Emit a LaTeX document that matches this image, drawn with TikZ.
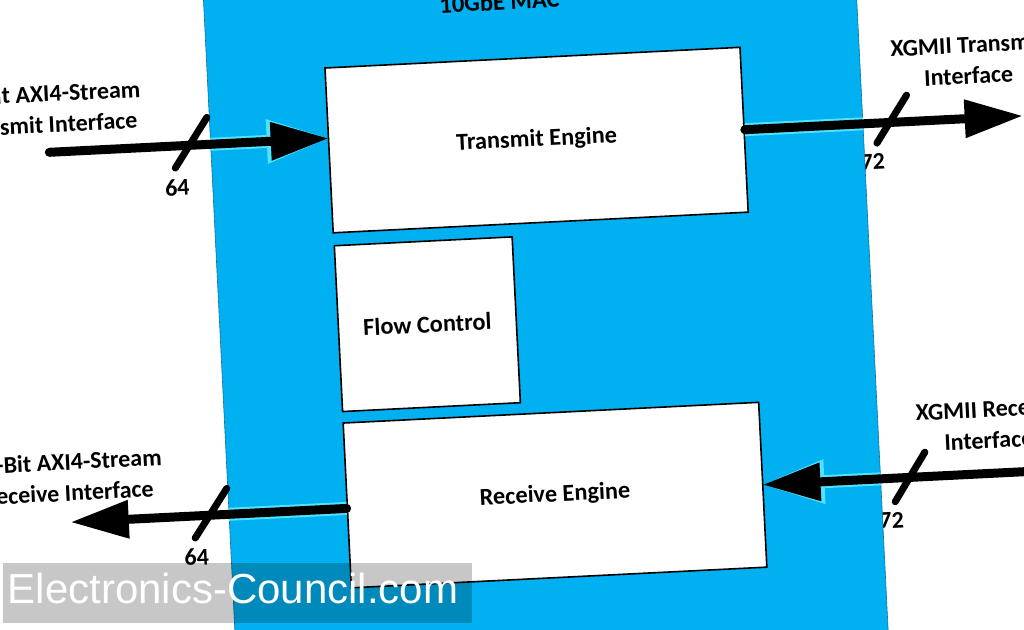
\documentclass[tikz,border=0pt]{standalone}
\usepackage{fontspec}
\setmainfont{Carlito}
\newfontfamily\wmfont{Liberation Sans}
\usetikzlibrary{arrows.meta,calc}
\definecolor{macblue}{RGB}{0,176,240}
\definecolor{macedge}{RGB}{20,110,160}
\definecolor{glowcyan}{RGB}{80,228,255}
\tikzset{
  box/.style={draw=black, line width=1.6pt, fill=white, inner sep=0pt, font=\bfseries\fontsize{24.3}{30}\selectfont},
  bus/.style={draw=black, line width=9pt, line cap=round, -{Triangle[length=57pt,width=39pt,line width=0pt]}},
  busglow/.style={draw=glowcyan, line width=13pt, line cap=butt, -{Triangle[length=61pt,width=45pt,line width=0pt]}},
  slashline/.style={draw=black, line width=7pt, line cap=round},
  numlbl/.style={font=\bfseries\fontsize{24}{28}\selectfont, inner sep=0pt},
  iflbl/.style={font=\bfseries\fontsize{24}{31}\selectfont, align=center, inner sep=0pt},
  titlelbl/.style={font=\bfseries\fontsize{24.5}{28}\selectfont, inner sep=0pt, anchor=base},
}
\begin{document}
\begin{tikzpicture}[x=1pt,y=-1pt]
\useasboundingbox (0,0) rectangle (1024,629);
\clip (0,0) rectangle (1024,629);
\fill[white] (0,0) rectangle (1024,629);
\begin{scope}[rotate around={2.85:(512,315)}, transform shape]
  % bus width labels (partly behind the MAC block)
  \node[numlbl] (n64a) at (184,171) {64};
  \node[numlbl] (n72a) at (880,180) {72};
  \node[numlbl] (n64b) at (185,541) {64};
  \node[numlbl] (n72b) at (881,539) {72};
  % MAC block
  \node[fill=macblue, draw=macedge, line width=0.6pt, minimum width=652.5pt, minimum height=900pt, inner sep=0pt] (mac) at (545.75,315) {};
  \node[titlelbl] (ttl) at (515,10) {10GbE MAC};
  % inner blocks
  \node[box, minimum width=415.5pt, minimum height=165pt] (te) at (545.25,141.5) {Transmit Engine};
  \node[box, minimum width=178pt, minimum height=166pt] (fc) at (427,320) {Flow Control};
  \node[box, minimum width=416pt, minimum height=165pt] (re) at (546,497) {Receive Engine};
  % free ends
  \coordinate (in1) at (58,129.5);
  \coordinate (out1) at (1031,141.5);
  \coordinate (out2) at (62,500);
  \coordinate (in2) at (1060,497);
  % glow inside the MAC block
  \begin{scope}
    \clip (mac.north west) -- (mac.north east) -- (mac.south east) -- (mac.south west) -- cycle;
    \draw[busglow] (in1) -- ($(te.west)!12pt!(te.north west)$);
    \draw[busglow] (te.east) -- (out1);
    \draw[busglow] ($(re.west)!3pt!(re.south west)$) -- (out2);
    \draw[busglow] (in2) -- (re.east);
  \end{scope}
  % buses
  \draw[bus] (in1) -- ($(te.west)!12pt!(te.north west)$);
  \draw[bus] (te.east) -- (out1);
  \draw[bus] ($(re.west)!3pt!(re.south west)$) -- (out2);
  \draw[bus] (in2) -- (re.east);
  % bus slashes
  \draw[slashline] (183,151.5) -- (217,102.5);
  \draw[slashline] (885,161.5) -- (917,115);
  \draw[slashline] (184.5,522) -- (218.5,474);
  \draw[slashline] (885.5,520.5) -- (917.5,472.5);
  % interface labels
  \node[iflbl] (lt) at (57,86) {64-Bit AXI4-Stream\\Transmit Interface};
  \node[iflbl] (rt) at (980,83) {XGMII Transmit\\Interface};
  \node[iflbl] (lr) at (60,455) {64-Bit AXI4-Stream\\Receive Interface};
  \node[iflbl] (rr) at (982,448) {XGMII Receive\\Interface};
\end{scope}
% watermark
\fill[black, opacity=0.22] (3,563) rectangle (472,623);
\node[white, font=\wmfont\fontsize{42}{42}\selectfont, inner sep=0pt, anchor=base] (wm) at (233,603) {Electronics-Council.com};
\end{tikzpicture}
\end{document}
